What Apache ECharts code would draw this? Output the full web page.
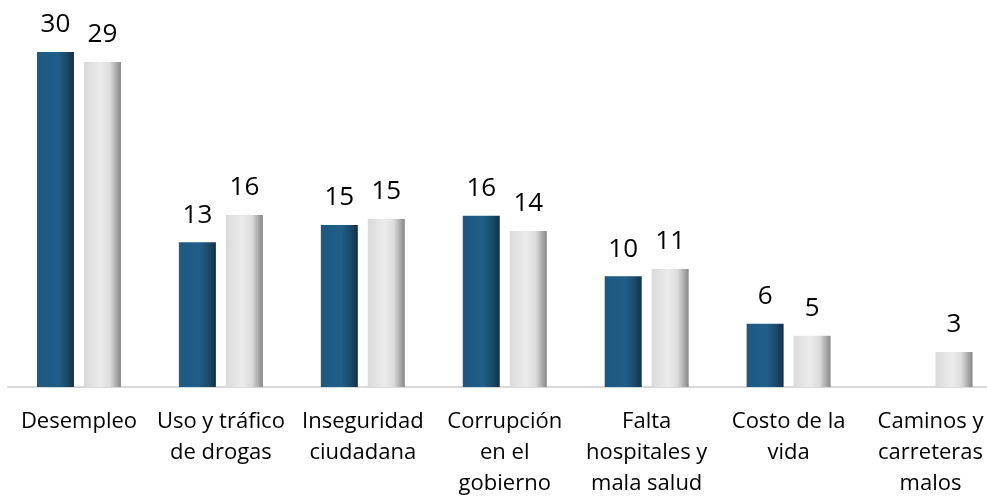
<!DOCTYPE html>
<html>
<head>
<meta charset="utf-8">
<script src="https://cdn.jsdelivr.net/npm/echarts@6/dist/echarts.min.js"></script>
<style>html,body{margin:0;padding:0;background:#fff}#c{width:987px;height:500px}</style>
</head>
<body>
<div id="c"></div>
<script>
const categories = ["Desempleo", "Uso y tráfico\nde drogas", "Inseguridad\nciudadana", "Corrupción\nen el\ngobierno", "Falta\nhospitales y\nmala salud", "Costo de la\nvida", "Caminos y\ncarreteras\nmalos"];
const seriesA = [30, 12.96, 14.5, 15.34, 9.91, 5.67, null];
const seriesB = [29.1, 15.4, 15.04, 13.97, 10.57, 4.59, 3.13];
const labelsA = ["30", "13", "15", "16", "10", "6", ""];
const labelsB = ["29", "16", "15", "14", "11", "5", "3"];

const font = "Open Sans";
const chart = echarts.init(document.getElementById('c'), null, {renderer: 'canvas'});
const darkGrad = new echarts.graphic.LinearGradient(0, 0, 1, 0, [
  {offset: 0, color: '#1d5982'},
  {offset: 0.55, color: '#205e88'},
  {offset: 0.8, color: '#1c4a6a'},
  {offset: 1, color: '#172f44'}
]);
const grayGrad = new echarts.graphic.LinearGradient(0, 0, 1, 0, [
  {offset: 0, color: '#dadada'},
  {offset: 0.45, color: '#ececec'},
  {offset: 0.7, color: '#dcdcdc'},
  {offset: 1, color: '#878787'}
]);
chart.setOption({
  animation: false,
  grid: {left: 8, width: 993.5, top: 52, bottom: 113, containLabel: false, outerBoundsMode: 'none'},
  xAxis: {
    type: 'category',
    data: categories,
    axisLine: {show: true, lineStyle: {color: '#d9d9d9', width: 2}},
    axisTick: {show: false},
    axisLabel: {interval: 0, color: '#000', fontFamily: font, fontSize: 22, lineHeight: 31, margin: 19}
  },
  yAxis: {type: 'value', min: 0, max: 30, show: false, splitLine: {show: false}},
  series: [
    {
      type: 'bar', data: seriesA, barWidth: 37, barGap: '27%',
      itemStyle: {color: darkGrad},
      label: {show: true, position: 'top', distance: 14, color: '#000', fontFamily: font, fontSize: 26,
        formatter: p => labelsA[p.dataIndex]}
    },
    {
      type: 'bar', data: seriesB, barWidth: 37, barGap: '27%',
      itemStyle: {color: grayGrad},
      label: {show: true, position: 'top', distance: 14, color: '#000', fontFamily: font, fontSize: 26,
        formatter: p => labelsB[p.dataIndex]}
    }
  ]
});
</script>
</body>
</html>
